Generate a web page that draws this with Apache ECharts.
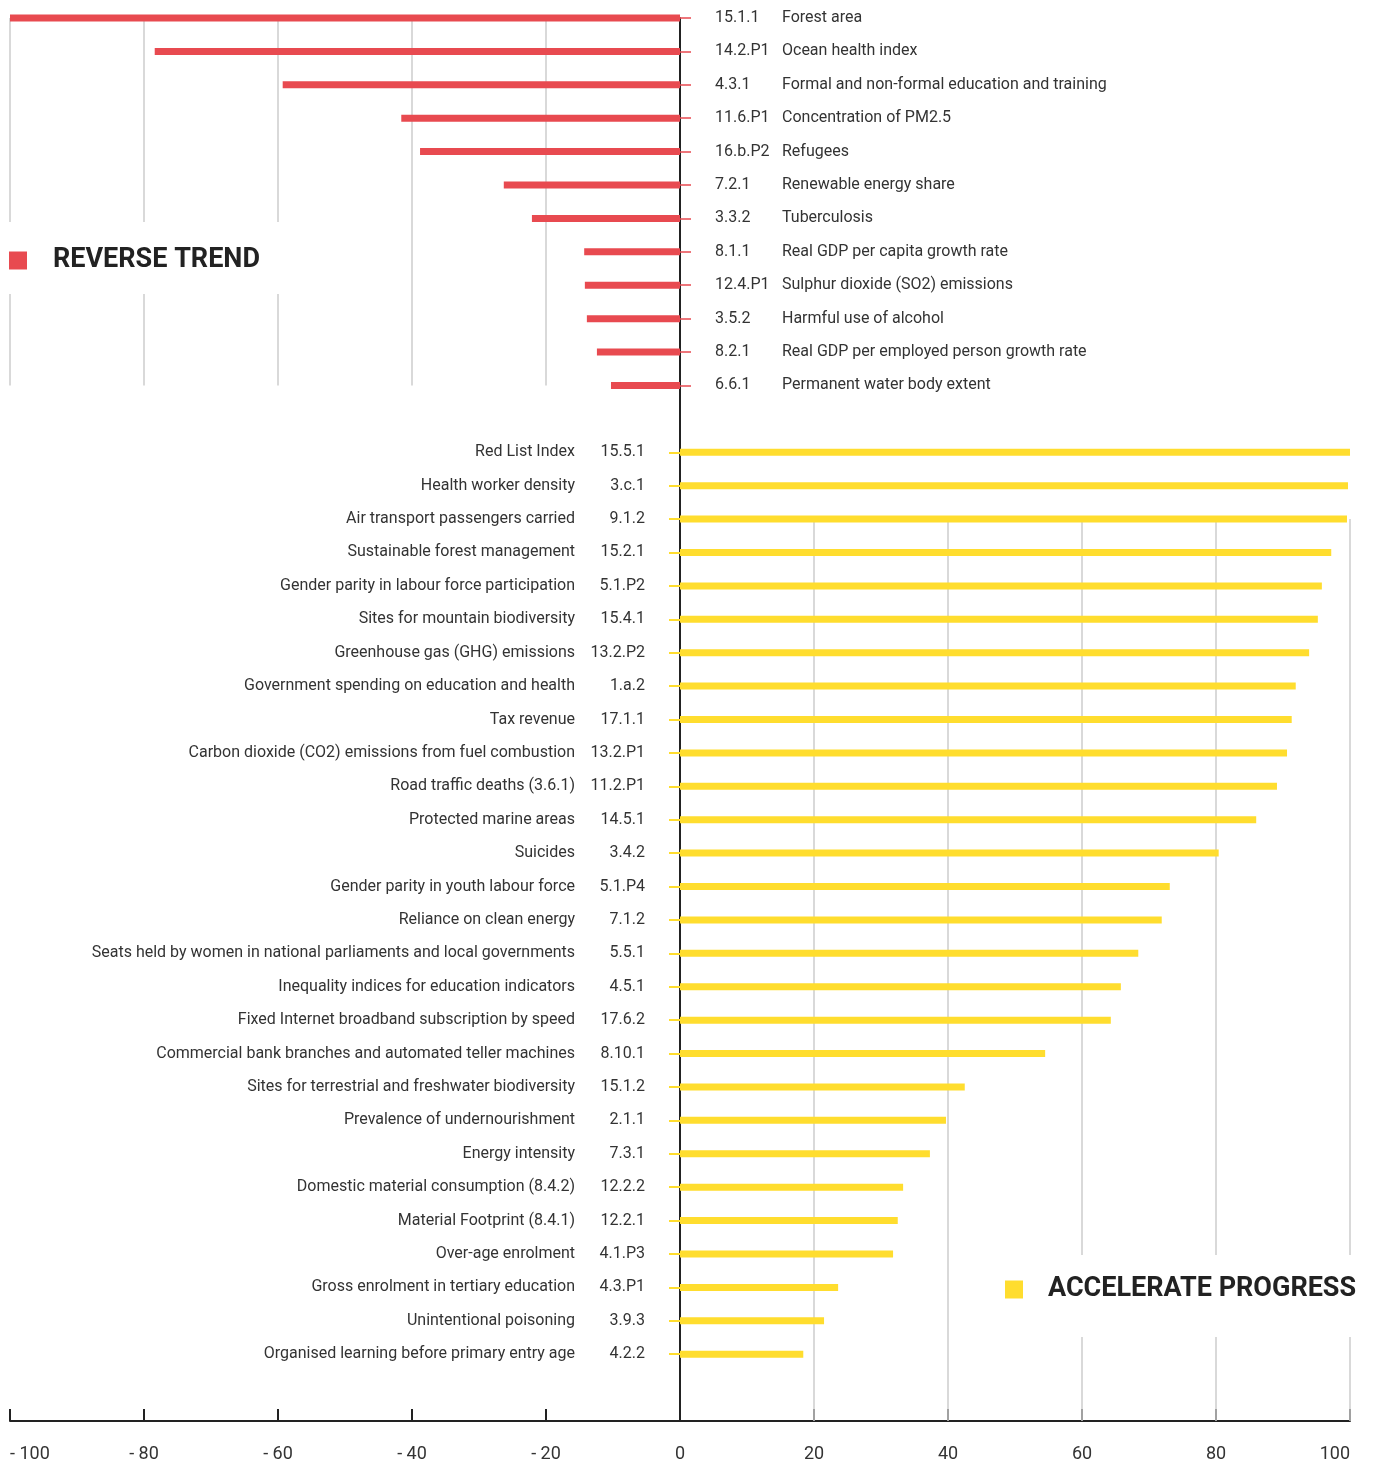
<!DOCTYPE html>
<html>
<head>
<meta charset="utf-8">
<script src="https://cdn.jsdelivr.net/npm/echarts@6/dist/echarts.min.js"></script>
<style>
  html, body { margin: 0; padding: 0; background: #fff; }
  #chart { width: 1373px; height: 1464px; }
</style>
</head>
<body>
<div id="chart"></div>
<script>
// reverse trend rows (top, negative values)
var redCodes = ['15.1.1','14.2.P1','4.3.1','11.6.P1','16.b.P2','7.2.1','3.3.2','8.1.1','12.4.P1','3.5.2','8.2.1','6.6.1'];
var redNames = ['Forest area','Ocean health index','Formal and non-formal education and training','Concentration of PM2.5',
  'Refugees','Renewable energy share','Tuberculosis','Real GDP per capita growth rate','Sulphur dioxide (SO2) emissions',
  'Harmful use of alcohol','Real GDP per employed person growth rate','Permanent water body extent'];
var redValues = [-100, -78.4, -59.3, -41.6, -38.8, -26.3, -22.1, -14.3, -14.2, -13.9, -12.4, -10.3];

// accelerate progress rows (bottom, positive values)
var yellowCodes = ['15.5.1','3.c.1','9.1.2','15.2.1','5.1.P2','15.4.1','13.2.P2','1.a.2','17.1.1','13.2.P1','11.2.P1','14.5.1',
  '3.4.2','5.1.P4','7.1.2','5.5.1','4.5.1','17.6.2','8.10.1','15.1.2','2.1.1','7.3.1','12.2.2','12.2.1','4.1.P3','4.3.P1','3.9.3','4.2.2'];
var yellowNames = ['Red List Index','Health worker density','Air transport passengers carried','Sustainable forest management',
  'Gender parity in labour force participation','Sites for mountain biodiversity','Greenhouse gas (GHG) emissions',
  'Government spending on education and health','Tax revenue','Carbon dioxide (CO2) emissions from fuel combustion',
  'Road traffic deaths (3.6.1)','Protected marine areas','Suicides','Gender parity in youth labour force','Reliance on clean energy',
  'Seats held by women in national parliaments and local governments','Inequality indices for education indicators',
  'Fixed Internet broadband subscription by speed','Commercial bank branches and automated teller machines',
  'Sites for terrestrial and freshwater biodiversity','Prevalence of undernourishment','Energy intensity',
  'Domestic material consumption (8.4.2)','Material Footprint (8.4.1)','Over-age enrolment','Gross enrolment in tertiary education',
  'Unintentional poisoning','Organised learning before primary entry age'];
var yellowValues = [100, 99.7, 99.55, 97.2, 95.8, 95.2, 93.9, 91.9, 91.3, 90.6, 89.1, 86.0, 80.4, 73.1, 71.9, 68.4, 65.8, 64.3,
  54.5, 42.5, 39.7, 37.3, 33.3, 32.5, 31.8, 23.6, 21.5, 18.4];

var xTicks = [-100, -80, -60, -40, -20, 0, 20, 40, 60, 80, 100];

var RED = '#e84a50';
var YELLOW = '#ffdd2e';

// one category per row: red rows, one empty row, yellow rows, two empty rows down to the axis
var categories = redCodes.concat(['gap'], yellowCodes, ['end1', 'end2']);
var yStart = redCodes.length + 1;

var redData = categories.map(function (c, i) { return i < redCodes.length ? redValues[i] : '-'; });
var yellowData = categories.map(function (c, i) {
  var k = i - yStart;
  return (k >= 0 && k < yellowCodes.length) ? yellowValues[k] : '-';
});

var gridColor = '#cccccc';
var topLines = xTicks.filter(function (v) { return v < 0; }).map(function (v) {
  return [{ coord: [v, redCodes[0]] }, { coord: [v, redCodes[redCodes.length - 1]] }];
});
var bottomLines = xTicks.filter(function (v) { return v > 0; }).map(function (v) {
  return [{ coord: [v, yellowCodes[2]] }, { coord: [v, 'end2'] }];
});

var gridLeft = 10, gridRight = 23;
var plotW = 1373 - gridLeft - gridRight;

var myChart = echarts.init(document.getElementById('chart'));
var option = {
  animation: false,
  textStyle: { fontFamily: 'Roboto' },
  grid: { left: gridLeft, right: gridRight, top: 18, bottom: 43, containLabel: false },
  legend: [
    {
      data: ['REVERSE TREND'], left: 0, top: 222, padding: [25, 25, 20, 9],
      backgroundColor: '#fff', selectedMode: false, icon: 'rect', itemWidth: 18, itemHeight: 18,
      textStyle: { fontSize: 27, fontWeight: 'bold', color: '#222', padding: [0, 0, 0, 21] }
    },
    {
      data: ['ACCELERATE PROGRESS'], left: 996, top: 1255, padding: [21, 20, 34, 9],
      backgroundColor: '#fff', selectedMode: false, icon: 'rect', itemWidth: 18, itemHeight: 18,
      textStyle: { fontSize: 27, fontWeight: 'bold', color: '#222', padding: [0, 0, 0, 20] }
    }
  ],
  xAxis: {
    type: 'value', min: -100, max: 100, interval: 20,
    axisLine: { show: true, onZero: false, lineStyle: { color: '#222', width: 2 } },
    axisTick: { show: true, inside: true, length: 12, lineStyle: { color: '#222', width: 2 } },
    axisLabel: {
      margin: 24, fontSize: 18, color: '#333', alignMinLabel: 'left', alignMaxLabel: 'right',
      formatter: function (v) { return v < 0 ? '- ' + (-v) : String(v); }
    },
    splitLine: { show: false }
  },
  yAxis: [
    { // zero line + yellow ticks pointing left
      type: 'category', data: categories, inverse: true, boundaryGap: false, position: 'left',
      axisLine: { show: true, onZero: true, lineStyle: { color: '#222', width: 2 } },
      axisTick: {
        show: true, length: 11, lineStyle: { color: YELLOW, width: 2 },
        interval: function (i) { return i >= yStart && i < yStart + yellowCodes.length; }
      },
      axisLabel: { show: false }, splitLine: { show: false }
    },
    { // red ticks pointing right, moved back from the right edge to the zero line
      type: 'category', data: categories, inverse: true, boundaryGap: false, position: 'right',
      offset: -plotW / 2,
      axisLine: { show: false, onZero: false },
      axisTick: {
        show: true, length: 11, lineStyle: { color: RED, width: 1.5 },
        interval: function (i) { return i < redCodes.length; }
      },
      axisLabel: { show: false }, splitLine: { show: false }
    }
  ],
  series: [
    {
      name: 'REVERSE TREND', type: 'bar', data: redData, barWidth: 7, barGap: '-100%',
      itemStyle: { color: RED },
      label: {
        show: true, position: 'right', distance: 35,
        formatter: function (p) { return '{c|' + redCodes[p.dataIndex] + '}{n|' + redNames[p.dataIndex] + '}'; },
        rich: {
          c: { width: 67, align: 'left', fontSize: 16, color: '#333', fontFamily: 'Roboto' },
          n: { align: 'left', fontSize: 16, color: '#333', fontFamily: 'Roboto' }
        }
      },
      markLine: {
        silent: true, z: 1, symbol: ['none', 'none'], label: { show: false },
        lineStyle: { color: gridColor, width: 1.5, type: 'solid' },
        data: topLines
      }
    },
    {
      name: 'ACCELERATE PROGRESS', type: 'bar', data: yellowData, barWidth: 7, barGap: '-100%',
      itemStyle: { color: YELLOW },
      label: {
        show: true, position: 'left', distance: 35,
        formatter: function (p) {
          var k = p.dataIndex - yStart;
          return '{n|' + yellowNames[k] + '}{c|' + yellowCodes[k] + '}';
        },
        rich: {
          n: { align: 'right', fontSize: 16, color: '#333', fontFamily: 'Roboto' },
          c: { width: 70, align: 'right', fontSize: 16, color: '#333', fontFamily: 'Roboto' }
        }
      },
      markLine: {
        silent: true, z: 1, symbol: ['none', 'none'], label: { show: false },
        lineStyle: { color: gridColor, width: 1.5, type: 'solid' },
        data: bottomLines
      }
    }
  ]
};
myChart.setOption(option);
</script>
</body>
</html>
